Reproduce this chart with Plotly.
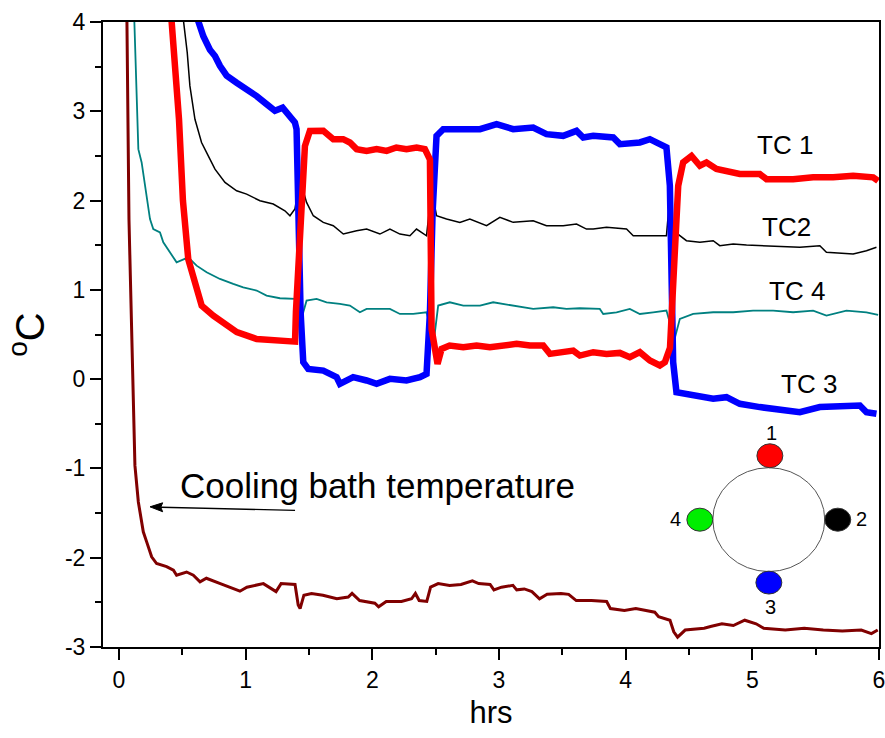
import plotly.graph_objects as go

# Thermocouple readings around the pipe wall and the cooling bath (hours, deg C)
tc1_t = [0.40, 0.416, 0.474, 0.505, 0.547, 0.60, 0.653, 0.745, 0.85, 0.93, 1.087, 1.218, 1.35, 1.39,
         1.397, 1.434, 1.468, 1.507, 1.613, 1.692, 1.77, 1.823, 1.876, 1.955, 2.034, 2.113, 2.19, 2.27,
         2.35, 2.415, 2.455, 2.468, 2.494, 2.515, 2.547, 2.61, 2.718, 2.823, 2.928, 3.034, 3.139, 3.244,
         3.349, 3.402, 3.507, 3.586, 3.638, 3.744, 3.849, 3.954, 4.033, 4.112, 4.191, 4.27, 4.31, 4.35,
         4.388, 4.415, 4.454, 4.52, 4.586, 4.638, 4.717, 4.796, 4.901, 5.059, 5.112, 5.322, 5.48, 5.638,
         5.796, 5.954, 5.993]
tc1_v = [4.20, 4.00, 2.91, 2.00, 1.345, 1.05, 0.823, 0.71, 0.60, 0.526, 0.45, 0.43, 0.41, 0.42,
         0.75, 1.87, 2.61, 2.78, 2.781, 2.688, 2.688, 2.65, 2.576, 2.557, 2.576, 2.557, 2.594, 2.576,
         2.594, 2.576, 2.46, 0.563, 0.264, 0.171, 0.339, 0.376, 0.358, 0.376, 0.358, 0.376, 0.395, 0.376,
         0.376, 0.283, 0.30, 0.32, 0.264, 0.302, 0.283, 0.294, 0.246, 0.302, 0.209, 0.153, 0.19, 0.35,
         1.42, 2.166, 2.427, 2.50, 2.39, 2.427, 2.353, 2.334, 2.297, 2.297, 2.24, 2.24, 2.26, 2.26,
         2.278, 2.26, 2.22]

tc2_t = [0.50, 0.508, 0.539, 0.56, 0.60, 0.652, 0.705, 0.758, 0.837, 0.929, 1.008, 1.113, 1.218, 1.31,
         1.35, 1.389, 1.428, 1.455, 1.481, 1.534, 1.613, 1.692, 1.771, 1.876, 1.955, 2.06, 2.139, 2.218,
         2.297, 2.349, 2.428, 2.468, 2.507, 2.586, 2.691, 2.77, 2.902, 3.007, 3.112, 3.27, 3.375, 3.507,
         3.612, 3.691, 3.744, 3.849, 4.007, 4.06, 4.217, 4.322, 4.349, 4.375, 4.428, 4.48, 4.586, 4.691,
         4.743, 4.849, 4.954, 5.059, 5.27, 5.375, 5.533, 5.585, 5.796, 5.901, 5.98]
tc2_v = [4.30, 4.03, 3.657, 3.284, 2.91, 2.65, 2.50, 2.352, 2.203, 2.11, 2.072, 1.998, 1.961, 1.886,
         1.83, 1.905, 2.24, 2.091, 1.979, 1.83, 1.756, 1.718, 1.625, 1.662, 1.681, 1.625, 1.681, 1.625,
         1.606, 1.681, 1.606, 2.129, 1.83, 1.793, 1.756, 1.793, 1.718, 1.812, 1.756, 1.774, 1.718, 1.718,
         1.737, 1.681, 1.681, 1.70, 1.681, 1.607, 1.607, 1.607, 2.054, 1.681, 1.607, 1.551, 1.532, 1.551,
         1.495, 1.514, 1.502, 1.495, 1.477, 1.477, 1.495, 1.42, 1.402, 1.439, 1.477]

tc3_t = [0.60, 0.626, 0.666, 0.718, 0.758, 0.797, 0.85, 0.929, 1.008, 1.087, 1.165, 1.231, 1.292, 1.336,
         1.389, 1.402, 1.415, 1.434, 1.455, 1.494, 1.613, 1.718, 1.744, 1.849, 1.955, 2.034, 2.139, 2.27,
         2.376, 2.428, 2.455, 2.476, 2.507, 2.56, 2.691, 2.85, 2.981, 3.112, 3.27, 3.375, 3.507, 3.612,
         3.665, 3.744, 3.902, 3.954, 4.112, 4.191, 4.27, 4.322, 4.349, 4.362, 4.375, 4.401, 4.48, 4.586,
         4.691, 4.796, 4.901, 5.059, 5.217, 5.375, 5.533, 5.691, 5.849, 5.901, 5.98]
tc3_v = [4.12, 3.99, 3.84, 3.69, 3.62, 3.51, 3.40, 3.32, 3.25, 3.17, 3.08, 3.005, 3.04, 2.967,
         2.874, 2.80, 1.868, 0.749, 0.19, 0.115, 0.096, 0.022, -0.053, 0.022, -0.015, -0.053, 0.003, -0.015,
         0.022, 0.059, 0.749, 1.868, 2.725, 2.80, 2.80, 2.80, 2.856, 2.80, 2.818, 2.744, 2.725, 2.781,
         2.707, 2.726, 2.707, 2.632, 2.651, 2.688, 2.632, 2.595, 2.166, 0.749, 0.19, -0.146, -0.164, -0.202,
         -0.22, -0.202, -0.276, -0.313, -0.35, -0.37, -0.313, -0.313, -0.295, -0.37, -0.388]

tc4_t = [0.115, 0.121, 0.134, 0.153, 0.179, 0.205, 0.231, 0.245, 0.271, 0.324, 0.35, 0.402, 0.455, 0.547,
         0.613, 0.692, 0.797, 0.902, 0.981, 1.087, 1.165, 1.271, 1.323, 1.389, 1.415, 1.434, 1.455, 1.481,
         1.56, 1.639, 1.744, 1.823, 1.902, 1.955, 2.06, 2.139, 2.218, 2.323, 2.428, 2.468, 2.486, 2.52,
         2.612, 2.718, 2.85, 2.954, 3.112, 3.27, 3.428, 3.533, 3.638, 3.796, 3.823, 3.928, 4.033, 4.112,
         4.217, 4.322, 4.362, 4.383, 4.428, 4.533, 4.691, 4.849, 5.006, 5.164, 5.322, 5.48, 5.585, 5.743,
         5.901, 5.993]
tc4_v = [4.30, 4.03, 3.284, 2.576, 2.427, 2.166, 1.942, 1.793, 1.681, 1.644, 1.532, 1.42, 1.309, 1.364,
         1.271, 1.197, 1.122, 1.066, 1.029, 0.992, 0.936, 0.906, 0.906, 0.898, 0.637, 0.581, 0.749, 0.879,
         0.898, 0.861, 0.842, 0.824, 0.749, 0.786, 0.786, 0.786, 0.73, 0.73, 0.749, 0.525, 0.432, 0.824,
         0.861, 0.824, 0.824, 0.861, 0.824, 0.786, 0.805, 0.786, 0.794, 0.786, 0.73, 0.749, 0.786, 0.73,
         0.749, 0.768, 0.563, 0.432, 0.675, 0.73, 0.749, 0.749, 0.768, 0.768, 0.749, 0.768, 0.712, 0.768,
         0.749, 0.719]

bath_t = [0.055, 0.063, 0.079, 0.113, 0.126, 0.153, 0.192, 0.218, 0.258, 0.297, 0.376, 0.43, 0.455, 0.534,
          0.587, 0.64, 0.69, 0.80, 0.90, 0.955, 1.01, 1.14, 1.24, 1.28, 1.39, 1.415, 1.43, 1.46, 1.52,
          1.61, 1.72, 1.81, 1.84, 1.90, 2.02, 2.05, 2.11, 2.23, 2.31, 2.34, 2.37, 2.43, 2.46, 2.52, 2.61,
          2.70, 2.79, 2.84, 2.93, 2.96, 3.02, 3.11, 3.14, 3.20, 3.26, 3.32, 3.38, 3.49, 3.55, 3.61, 3.73,
          3.85, 3.88, 3.99, 4.08, 4.23, 4.26, 4.35, 4.38, 4.41, 4.47, 4.62, 4.67, 4.76, 4.85, 4.94, 5.03,
          5.09, 5.26, 5.41, 5.56, 5.71, 5.86, 5.94, 5.99]
bath_v = [4.60, 4.00, 1.79, -0.22, -0.966, -1.376, -1.71, -1.82, -1.99, -2.065, -2.10, -2.14, -2.196, -2.16,
          -2.196, -2.27, -2.23, -2.29, -2.345, -2.375, -2.33, -2.29, -2.38, -2.29, -2.30, -2.53, -2.57, -2.42, -2.40,
          -2.42, -2.46, -2.44, -2.40, -2.48, -2.51, -2.55, -2.49, -2.49, -2.46, -2.40, -2.48, -2.49, -2.33, -2.29, -2.31,
          -2.30, -2.26, -2.29, -2.30, -2.36, -2.33, -2.31, -2.36, -2.35, -2.38, -2.46, -2.41, -2.40, -2.41, -2.48, -2.48,
          -2.49, -2.57, -2.59, -2.57, -2.61, -2.66, -2.70, -2.83, -2.89, -2.81, -2.79, -2.77, -2.74, -2.76, -2.70, -2.74,
          -2.79, -2.81, -2.79, -2.81, -2.82, -2.81, -2.85, -2.81]

# Curve labels: (text, hrs, deg C)
curve_labels = [("TC 1", 5.26, 2.62), ("TC2", 5.27, 1.70), ("TC 4", 5.35, 0.99), ("TC 3", 5.45, -0.05)]

x_ticks = [0, 1, 2, 3, 4, 5, 6]
y_ticks = [-3, -2, -1, 0, 1, 2, 3, 4]

fig = go.Figure()
fig.add_trace(go.Scatter(x=bath_t, y=bath_v, mode="lines", line=dict(color="#800000", width=3)))
fig.add_trace(go.Scatter(x=tc4_t, y=tc4_v, mode="lines", line=dict(color="#008080", width=1.8)))
fig.add_trace(go.Scatter(x=tc2_t, y=tc2_v, mode="lines", line=dict(color="#000000", width=1.5)))
fig.add_trace(go.Scatter(x=tc3_t, y=tc3_v, mode="lines", line=dict(color="#0000FF", width=6.5)))
fig.add_trace(go.Scatter(x=tc1_t, y=tc1_v, mode="lines", line=dict(color="#FF0000", width=6.5)))

font_family = "Liberation Sans, Arial, sans-serif"
for text, xv, yv in curve_labels:
    fig.add_annotation(x=xv, y=yv, text=text, showarrow=False,
                       font=dict(size=26, color="black", family=font_family))

fig.add_annotation(x=0.465, y=-1.19, text="Cooling bath temperature", showarrow=False, xanchor="left",
                   font=dict(size=35, color="black", family=font_family))

# Arrow pointing at the bath curve: shaft plus head
fig.add_shape(type="line", xref="x", yref="y", x0=1.39, y0=-1.47, x1=0.33, y1=-1.435,
              line=dict(color="black", width=1.3))
fig.add_shape(type="path", xref="x", yref="y",
              path="M 0.245 -1.43 L 0.345 -1.385 L 0.33 -1.435 L 0.345 -1.485 Z",
              fillcolor="black", line=dict(color="black", width=1))

# Pipe cross-section with the four thermocouple positions
fig.add_shape(type="circle", xref="x", yref="y", x0=4.688, x1=5.572, y0=-2.155, y1=-0.992,
              line=dict(color="#555555", width=1), fillcolor="white", layer="above")
probe_dots = [("#FF0000", 5.036, 5.241, -0.992, -0.724, "1", 5.15, -0.60),
              ("#000000", 5.572, 5.777, -1.703, -1.445, "2", 5.86, -1.57),
              ("#0000FF", 5.028, 5.233, -2.407, -2.150, "3", 5.145, -2.55),
              ("#00EE00", 4.483, 4.688, -1.703, -1.445, "4", 4.39, -1.57)]
for color, x0, x1, y0, y1, lab, lx, ly in probe_dots:
    fig.add_shape(type="circle", xref="x", yref="y", x0=x0, x1=x1, y0=y0, y1=y1,
                  line=dict(color="#333333", width=1), fillcolor=color, layer="above")
    fig.add_annotation(x=lx, y=ly, text=lab, showarrow=False,
                       font=dict(size=20, color="black", family=font_family))

axis_common = dict(showline=True, linecolor="black", linewidth=2, mirror=True, ticks="outside",
                   ticklen=11, tickwidth=2, tickcolor="black", showgrid=False, zeroline=False,
                   automargin=False, ticklabeloverflow="allow",
                   tickfont=dict(size=23, color="black", family=font_family))
fig.update_xaxes(range=[-0.126, 6.0], tickvals=x_ticks, ticktext=[str(v) for v in x_ticks],
                 minor=dict(ticks="outside", ticklen=6, tickwidth=2, tickcolor="black", dtick=0.5, tick0=0),
                 title=dict(text="hrs", font=dict(size=31, color="black", family=font_family), standoff=10),
                 **axis_common)
fig.update_yaxes(range=[-3, 4], tickvals=y_ticks, ticktext=[str(v) for v in y_ticks],
                 minor=dict(ticks="outside", ticklen=6, tickwidth=2, tickcolor="black", dtick=0.5, tick0=0),
                 title=dict(text="<sup>o</sup>C", font=dict(size=40, color="black", family=font_family), standoff=8),
                 **axis_common)

fig.update_layout(width=885, height=738, margin=dict(l=103, r=6, t=22, b=91),
                  plot_bgcolor="white", paper_bgcolor="white", showlegend=False)

fig.write_html("out.html")
